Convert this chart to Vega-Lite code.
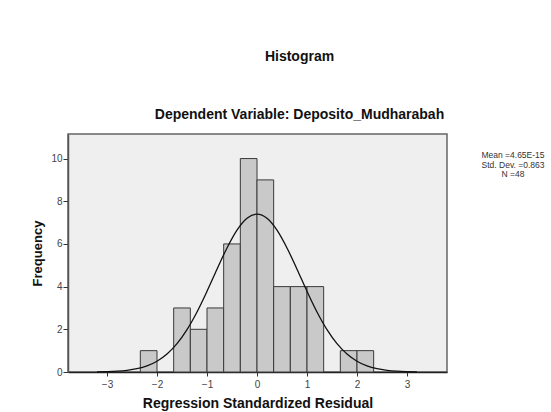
{
  "$schema": "https://vega.github.io/schema/vega-lite/v6.json",
  "width": 379,
  "height": 238,
  "autosize": {"type": "none"},
  "padding": {"left": 68, "top": 134, "right": 104, "bottom": 40},
  "background": "#ffffff",
  "config": {
    "font": "Liberation Sans",
    "view": {"fill": "#efefef", "stroke": "#666666", "strokeWidth": 1.5}
  },
  "title": {
    "text": "Histogram",
    "subtitle": "Dependent Variable: Deposito_Mudharabah",
    "fontSize": 14,
    "fontWeight": "bold",
    "color": "#111111",
    "subtitleFontSize": 14,
    "subtitleFontWeight": "bold",
    "subtitleColor": "#111111",
    "subtitlePadding": 44,
    "anchor": "middle",
    "dx": 42,
    "offset": 12
  },
  "datasets": {
    "bins": [
      {"start": -2.3333, "end": -2.0, "count": 1},
      {"start": -1.6667, "end": -1.3333, "count": 3},
      {"start": -1.3333, "end": -1.0, "count": 2},
      {"start": -1.0, "end": -0.6667, "count": 3},
      {"start": -0.6667, "end": -0.3333, "count": 6},
      {"start": -0.3333, "end": 0.0, "count": 10},
      {"start": 0.0, "end": 0.3333, "count": 9},
      {"start": 0.3333, "end": 0.6667, "count": 4},
      {"start": 0.6667, "end": 1.0, "count": 4},
      {"start": 1.0, "end": 1.3333, "count": 4},
      {"start": 1.6667, "end": 2.0, "count": 1},
      {"start": 2.0, "end": 2.3333, "count": 1}
    ],
    "curve": [
      {"x": -3.2, "y": 0.008},
      {"x": -3.0, "y": 0.018},
      {"x": -2.8, "y": 0.038},
      {"x": -2.6, "y": 0.079},
      {"x": -2.4, "y": 0.155},
      {"x": -2.2, "y": 0.287},
      {"x": -2.0, "y": 0.505},
      {"x": -1.8, "y": 0.841},
      {"x": -1.6, "y": 1.327},
      {"x": -1.4, "y": 1.985},
      {"x": -1.2, "y": 2.814},
      {"x": -1.0, "y": 3.782},
      {"x": -0.8, "y": 4.816},
      {"x": -0.6, "y": 5.811},
      {"x": -0.4, "y": 6.647},
      {"x": -0.2, "y": 7.204},
      {"x": 0.0, "y": 7.4},
      {"x": 0.2, "y": 7.204},
      {"x": 0.4, "y": 6.647},
      {"x": 0.6, "y": 5.811},
      {"x": 0.8, "y": 4.816},
      {"x": 1.0, "y": 3.782},
      {"x": 1.2, "y": 2.814},
      {"x": 1.4, "y": 1.985},
      {"x": 1.6, "y": 1.327},
      {"x": 1.8, "y": 0.841},
      {"x": 2.0, "y": 0.505},
      {"x": 2.2, "y": 0.287},
      {"x": 2.4, "y": 0.155},
      {"x": 2.6, "y": 0.079},
      {"x": 2.8, "y": 0.038},
      {"x": 3.0, "y": 0.018},
      {"x": 3.2, "y": 0.008}
    ]
  },
  "layer": [
    {
      "data": {"name": "bins"},
      "mark": {"type": "bar", "fill": "#c9c9c9", "stroke": "#3a3a3a", "strokeWidth": 1},
      "encoding": {
        "x": {
          "field": "start",
          "type": "quantitative",
          "scale": {"domain": [-3.78, 3.8], "nice": false, "zero": false},
          "axis": {
            "values": [-3, -2, -1, 0, 1, 2, 3],
            "title": "Regression Standardized Residual",
            "titleFontSize": 14,
            "titleFontWeight": "bold",
            "titleColor": "#111111",
            "titlePadding": 7,
            "labelFontSize": 10,
            "labelColor": "#444444",
            "labelPadding": 3,
            "tickSize": 4,
            "tickColor": "#333333",
            "domainColor": "#222222",
            "domainWidth": 1.5,
            "grid": false
          }
        },
        "x2": {"field": "end"},
        "y": {
          "field": "count",
          "type": "quantitative",
          "scale": {"domain": [0, 11.15], "nice": false},
          "axis": {
            "values": [0, 2, 4, 6, 8, 10],
            "title": "Frequency",
            "titleFontSize": 13,
            "titleFontWeight": "bold",
            "titleColor": "#111111",
            "titlePadding": 6,
            "labelFontSize": 10,
            "labelColor": "#444444",
            "labelPadding": 1,
            "tickSize": 5,
            "tickColor": "#333333",
            "domainColor": "#555555",
            "domainWidth": 1.5,
            "grid": false
          }
        },
        "y2": {"datum": 0}
      }
    },
    {
      "data": {"name": "curve"},
      "mark": {"type": "line", "color": "#111111", "strokeWidth": 1.3, "interpolate": "monotone"},
      "encoding": {
        "x": {"field": "x", "type": "quantitative"},
        "y": {"field": "y", "type": "quantitative"}
      }
    },
    {
      "data": {"values": [{}]},
      "mark": {"type": "text", "align": "center", "baseline": "top", "fontSize": 8.5, "lineHeight": 9.5, "color": "#333333", "clip": false},
      "encoding": {
        "x": {"datum": 5.12},
        "y": {"datum": 10.35},
        "text": {"value": ["Mean =4.65E-15", "Std. Dev. =0.863", "N =48"]}
      }
    }
  ]
}
